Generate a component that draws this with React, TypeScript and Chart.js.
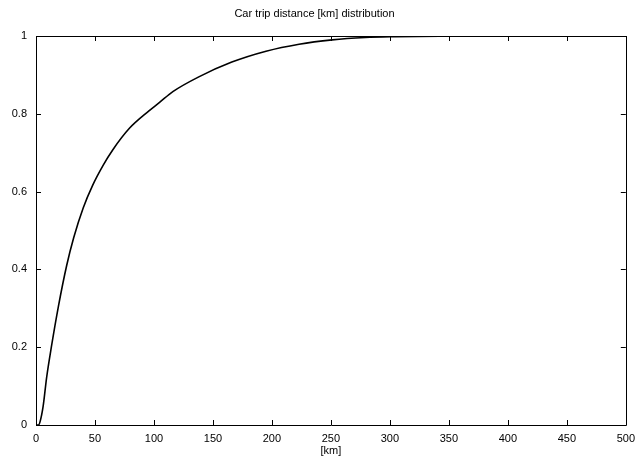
import React, { useEffect, useRef } from "react";
import { Chart, registerables } from "chart.js";

Chart.register(...registerables);

const titleText = "Car trip distance [km] distribution";
const xAxisLabel = "[km]";
const distanceKm = [0, 2, 3.4, 6, 9, 13, 19, 26, 32, 40, 48, 57, 65, 79, 96, 105, 116, 138, 166, 195, 223, 251, 279, 301, 350, 400, 500];
const cumulativeShare = [0, 0, 0.008, 0.047, 0.122, 0.2, 0.305, 0.41, 0.482, 0.558, 0.616, 0.668, 0.707, 0.762, 0.808, 0.83, 0.857, 0.895, 0.933, 0.961, 0.979, 0.99, 0.996, 0.998, 0.9995, 1, 1];
const xTicks = [0, 50, 100, 150, 200, 250, 300, 350, 400, 450, 500];
const yTicks = [0, 0.2, 0.4, 0.6, 0.8, 1];

const FONT = "'Liberation Sans', Arial, Helvetica, sans-serif";

const framePlugin = {
  id: "gnuplotFrame",
  afterDraw(chart: any) {
    const { ctx, chartArea, scales } = chart;
    const { left, right, top, bottom } = chartArea;
    ctx.save();
    ctx.strokeStyle = "#000";
    ctx.lineWidth = 1;
    const tl = 5;
    ctx.beginPath();
    for (const v of xTicks) {
      const px = Math.round(scales.x.getPixelForValue(v)) + 0.5;
      ctx.moveTo(px, bottom);
      ctx.lineTo(px, bottom - tl);
      ctx.moveTo(px, top);
      ctx.lineTo(px, top + tl);
    }
    for (const v of yTicks) {
      const py = Math.round(scales.y.getPixelForValue(v)) + 0.5;
      ctx.moveTo(left, py);
      ctx.lineTo(left + tl, py);
      ctx.moveTo(right, py);
      ctx.lineTo(right - tl, py);
    }
    ctx.stroke();
    ctx.beginPath();
    ctx.rect(Math.round(left) + 0.5, Math.round(top) + 0.5, Math.round(right - left), Math.round(bottom - top));
    ctx.stroke();
    ctx.restore();
  },
};

export default function App() {
  const ref = useRef<HTMLCanvasElement | null>(null);
  useEffect(() => {
    if (!ref.current) return;
    Chart.defaults.font.family = FONT;
    Chart.defaults.color = "#000";
    const chart = new Chart(ref.current, {
      type: "line",
      data: {
        datasets: [
          {
            data: distanceKm.map((x, i) => ({ x, y: cumulativeShare[i] })),
            borderColor: "#000",
            borderWidth: 1.6,
            pointRadius: 0,
            fill: false,
            cubicInterpolationMode: "monotone",
          },
        ],
      },
      options: {
        animation: false,
        responsive: false,
        devicePixelRatio: 1,
        layout: { padding: { left: 0, right: 13, top: 0, bottom: 0 } },
        plugins: {
          legend: { display: false },
          tooltip: { enabled: false },
          title: {
            display: true,
            text: titleText,
            font: { size: 11, weight: "normal", family: FONT },
            color: "#000",
            padding: { top: 7, bottom: 15.8 },
          },
        },
        scales: {
          x: {
            type: "linear",
            min: 0,
            max: 500,
            afterFit: (s: any) => { s.height = 41; },
            afterBuildTicks: (s: any) => { s.ticks = xTicks.map((v) => ({ value: v })); },
            grid: { display: false, drawTicks: false },
            border: { display: false },
            ticks: { font: { size: 11 }, padding: 7, maxRotation: 0, autoSkip: false, callback: (v: any) => String(v) },
            title: { display: true, text: xAxisLabel, font: { size: 11 }, padding: { top: 0, bottom: 8 } },
          },
          y: {
            type: "linear",
            min: 0,
            max: 1,
            afterFit: (s: any) => { s.width = 36; },
            afterBuildTicks: (s: any) => { s.ticks = yTicks.map((v) => ({ value: v })); },
            grid: { display: false, drawTicks: false },
            border: { display: false },
            ticks: { font: { size: 11 }, padding: 9, autoSkip: false, callback: (v: any) => String(Math.round(v * 10) / 10) },
          },
        },
      },
      plugins: [framePlugin],
    } as any);
    return () => chart.destroy();
  }, []);
  return (
    <div style={{ position: "fixed", left: 0, top: 0, width: 642, height: 466, background: "#fff" }}>
      <canvas ref={ref} width={642} height={466} style={{ width: 642, height: 466 }} />
    </div>
  );
}
